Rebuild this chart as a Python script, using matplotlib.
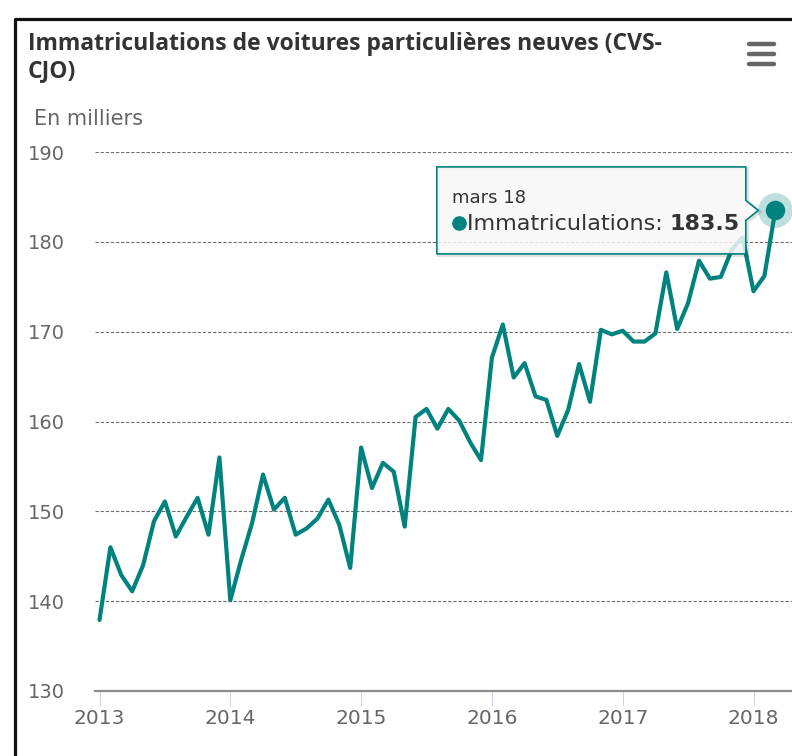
import matplotlib
matplotlib.use('Agg')
import matplotlib.pyplot as plt
import numpy as np
from matplotlib.patches import Polygon
from matplotlib.lines import Line2D
from matplotlib.transforms import IdentityTransform

W, H = 792, 756

# monthly values, Jan 2013 -> Mar 2018 (thousands)
years = ['2013', '2014', '2015', '2016', '2017', '2018']
values = [
    137.9, 146.0, 142.9, 141.1, 144.0, 148.9, 151.1, 147.2, 149.4, 151.5, 147.4, 156.0,
    140.1, 144.6, 148.7, 154.1, 150.2, 151.5, 147.4, 148.1, 149.2, 151.3, 148.5, 143.7,
    157.1, 152.6, 155.4, 154.4, 148.3, 160.5, 161.4, 159.2, 161.4, 160.1, 157.7, 155.7,
    167.1, 170.8, 164.9, 166.5, 162.8, 162.4, 158.4, 161.3, 166.4, 162.2, 170.2, 169.7,
    170.1, 168.9, 168.9, 169.8, 176.6, 170.3, 173.2, 177.9, 175.9, 176.1, 179.1, 180.5,
    174.5, 176.2, 183.5,
]
y_ticks = [130, 140, 150, 160, 170, 180, 190]
title_lines = ['Immatriculations de voitures particulières neuves (CVS-', 'CJO)']
unit_label = 'En milliers'
tip_date = 'mars 18'
series_name = 'Immatriculations'

teal = '#00837e'
grey_text = '#666666'

fig = plt.figure(figsize=(W / 100, H / 100), dpi=100)


def top(y):
    # pixel row from the top -> display y
    return H - y


# plot area: x 95..792, y 152..691 (pixels from top)
ax = fig.add_axes([95 / W, (H - 691) / H, (792 - 95) / W, (691 - 152) / H])

x = np.arange(len(values))
x0, x60 = 99.5, 753.5  # pixel columns of Jan 2013 and Jan 2018
ppm = (x60 - x0) / 60.0
ax.set_xlim((95 - x0) / ppm, (792 - x0) / ppm)
ax.set_ylim(130, 190)

ax.plot(x, values, color=teal, lw=3, solid_joinstyle='round', solid_capstyle='round',
        zorder=3, clip_on=False)
ax.plot(x[-1], values[-1], 'o', ms=25, color=teal, alpha=0.25, mec='none', zorder=4, clip_on=False)
ax.plot(x[-1], values[-1], 'o', ms=13, color=teal, mec=teal, zorder=5, clip_on=False)

for s in ['top', 'right', 'left']:
    ax.spines[s].set_visible(False)
ax.spines['bottom'].set_color('#8c8c8c')
ax.spines['bottom'].set_linewidth(1.6)

ax.yaxis.grid(True, color='#6e6e6e', lw=0.8, ls=(0, (3, 1.6)))
ax.set_axisbelow(True)
ax.set_yticks(y_ticks)
ax.set_yticklabels([str(v) for v in y_ticks])
ax.set_xticks(np.arange(len(years)) * 12)
ax.set_xticklabels(years)
ax.tick_params(axis='x', length=11, width=0.75, color='#ccd6eb', pad=2,
               labelsize=14.5, labelcolor=grey_text)
ax.tick_params(axis='y', length=0, labelsize=14, labelcolor=grey_text)
# tick_params(pad=...) did not stick on the y ticks, set it per tick
for tk in ax.yaxis.get_major_ticks():
    tk.set_pad(21.5)

# titles
title_font = dict(family=['Open Sans', 'DejaVu Sans'], weight='bold', fontsize=16.5,
                  color='#333333', va='baseline')
fig.text(28 / W, top(50) / H, title_lines[0], **title_font)
fig.text(28 / W, top(77) / H, title_lines[1], **title_font)
fig.text(34 / W, top(125) / H, unit_label, fontsize=15, color=grey_text, va='baseline')

# menu icon
for yy in [43.5, 53.5, 63.5]:
    fig.add_artist(Line2D([749, 774], [top(yy), top(yy)], lw=3.2, color='#666666',
                          solid_capstyle='round', transform=IdentityTransform()))

# frame
fig.add_artist(Line2D([15, 15, 810], [-10, top(18.5), top(18.5)], lw=2.3, color='#111111',
                      transform=IdentityTransform()))

# tooltip, anchored on the last point
px, py = ax.transData.transform((x[-1], values[-1]))
tip_x = px - 17
right = tip_x - 12.5
left = right - 309
t, b = py + 43.5, py - 43.5
shape = [(left, t), (right, t), (right, py + 10), (tip_x, py), (right, py - 10),
         (right, b), (left, b)]
shadow = [(xx + 1.5, yy - 1.5) for xx, yy in shape]
fig.add_artist(Polygon(shadow, closed=True, fc='none', ec=(0, 0, 0, 0.12), lw=2.5,
                       transform=IdentityTransform()))
fig.add_artist(Polygon(shape, closed=True, fc=(0.97, 0.97, 0.97, 0.85), ec=teal, lw=1.2,
                       joinstyle='round', transform=IdentityTransform()))

fig.text(left + 15, py + 7.3, tip_date, fontsize=13, color='#333333', va='baseline',
         transform=IdentityTransform())
fig.add_artist(Line2D([left + 22], [py - 13], marker='o', ms=9.5, color=teal, mec=teal,
                      transform=IdentityTransform()))
name_txt = fig.text(left + 30, py - 20, series_name + ': ', fontsize=16, color='#333333',
                    va='baseline', transform=IdentityTransform())
fig.canvas.draw()
bb = name_txt.get_window_extent()
fig.text(bb.x1, py - 20, f'{values[-1]:.1f}', fontsize=16, weight='bold', color='#333333',
         va='baseline', transform=IdentityTransform())

fig.savefig('out.png', dpi=100)
